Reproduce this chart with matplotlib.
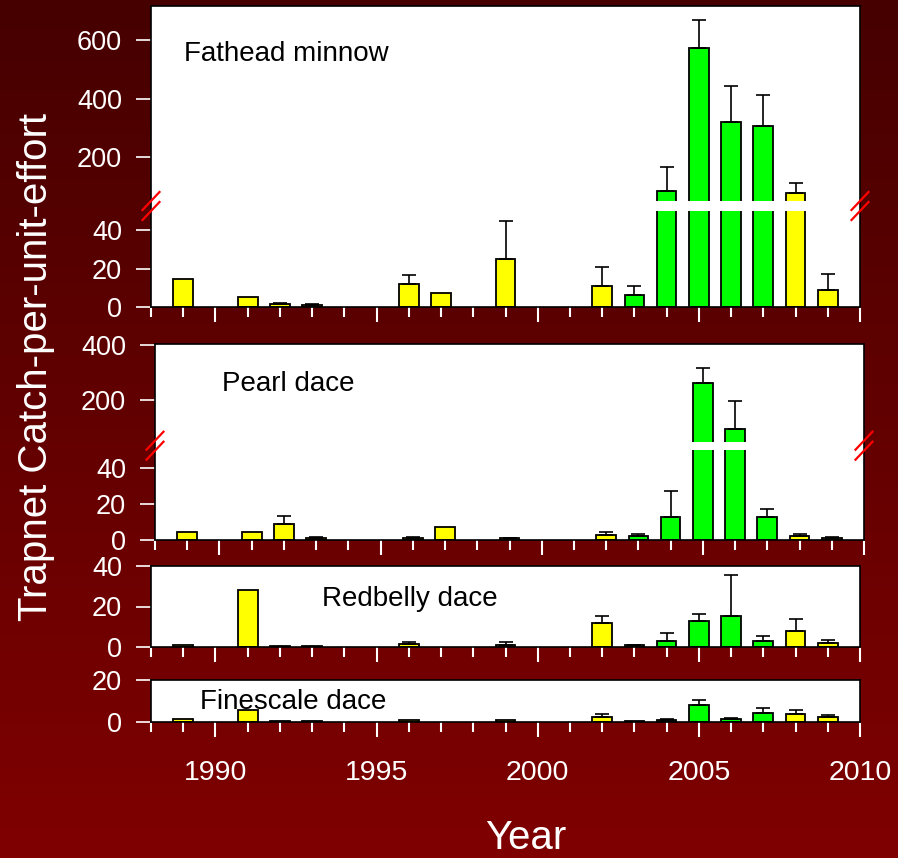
import numpy as np
import matplotlib
matplotlib.use("Agg")
import matplotlib.pyplot as plt
from matplotlib.colors import LinearSegmentedColormap
from matplotlib.patches import Rectangle
from matplotlib.lines import Line2D

plt.rcParams["font.family"] = ["Liberation Sans", "DejaVu Sans"]

# ---- data -------------------------------------------------------------
years = list(range(1989, 2010))
green_years = [2003, 2004, 2005, 2006, 2007]

fathead = [14.5, 0, 5, 1.5, 1.0, 0, 0, 12, 7.4, 0, 25, 0, 0, 11, 6, 83, 573, 322, 305, 78, 9]
fathead_se = [0, 0, 0, 0.8, 0.4, 0, 0, 4.5, 0, 0, 20, 0, 0, 10, 5, 84, 95, 120, 106, 32, 8]

pearl = [4.3, 0, 4.1, 8.5, 1.0, 0, 0, 1.0, 6.8, 0, 0.7, 0, 0, 2.5, 2.0, 12.5, 263, 94, 12.5, 2.0, 0.8]
pearl_se = [0, 0, 0, 4.8, 0.5, 0, 0, 0.5, 0, 0, 0.3, 0, 0, 1.5, 1.4, 14.5, 51, 102, 4.5, 1.3, 0.8]

redbelly = [1.1, 0, 28.3, 0.3, 0.6, 0, 0, 1.6, 0, 0, 1.0, 0, 0, 12.0, 0.8, 2.8, 12.7, 15.3, 3.0, 7.7, 1.8]
redbelly_se = [0, 0, 0, 0, 0, 0, 0, 0.7, 0, 0, 1.3, 0, 0, 3.3, 0.3, 4.0, 3.6, 20.3, 2.3, 6.3, 1.7]

finescale = [1.4, 0, 5.8, 0.2, 0.2, 0, 0, 0.9, 0, 0, 0.6, 0, 0, 2.1, 0.2, 0.6, 7.9, 1.4, 4.3, 3.6, 2.4]
finescale_se = [0, 0, 0, 0, 0, 0, 0, 0, 0, 0, 0, 0, 0, 1.5, 0, 0.8, 2.3, 0.5, 2.5, 1.9, 0.9]

species = ["Fathead minnow", "Pearl dace", "Redbelly dace", "Finescale dace"]
major_years = [1990, 1995, 2000, 2005, 2010]

# ---- layout (pixels) --------------------------------------------------
W, H = 898, 858
fig = plt.figure(figsize=(W / 100, H / 100), dpi=100)

# background gradient
bg = fig.add_axes([0, 0, 1, 1], zorder=-10)
grad = np.linspace(0, 1, 256).reshape(-1, 1)
cmap = LinearSegmentedColormap.from_list("bg", ["#460000", "#800000"])
bg.imshow(grad, aspect="auto", cmap=cmap, extent=[0, 1, 0, 1], origin="upper")
bg.axis("off")


def px_axes(left, top, right, bottom):
    return fig.add_axes([left / W, 1 - bottom / H, (right - left) / W, (bottom - top) / H])


def broken_scale(b, k1, gap, k2):
    def fwd(v):
        v = np.asarray(v, dtype=float)
        return np.where(v <= b, v * k1, b * k1 + gap + (v - b) * k2)

    def inv(u):
        u = np.asarray(u, dtype=float)
        lo = b * k1
        return np.where(u <= lo, u / k1,
                        np.where(u < lo + gap, b, b + (u - lo - gap) / k2))
    return fwd, inv


panels = [
    dict(name=species[0], vals=fathead, errs=fathead_se, rect=(151, 6, 860, 307),
         brk=(50, 1.92, 10, 0.2925), ylim=717, yticks=[0, 20, 40, 200, 400, 600],
         title_xy=(184, 61)),
    dict(name=species[1], vals=pearl, errs=pearl_se, rect=(155, 344, 864, 539.7),
         brk=(50, 1.80, 8, 0.277), ylim=402, yticks=[0, 20, 40, 200, 400],
         title_xy=(222, 391)),
    dict(name=species[2], vals=redbelly, errs=redbelly_se, rect=(151, 566, 860, 647),
         brk=None, ylim=40, yticks=[0, 20, 40], title_xy=(322, 606.5)),
    dict(name=species[3], vals=finescale, errs=finescale_se, rect=(151, 680, 860, 721.7),
         brk=None, ylim=20, yticks=[0, 20], title_xy=(200, 709)),
]

bar_w = 0.61
for i, p in enumerate(panels):
    left, top, right, bottom = p["rect"]
    ax = px_axes(left, top, right, bottom)
    ax.set_facecolor("white")

    if p["brk"] is not None:
        fwd, inv = broken_scale(*p["brk"])
        ax.set_yscale("function", functions=(fwd, inv))

    xs = [y for y, v in zip(years, p["vals"]) if v > 0]
    hs = [v for v in p["vals"] if v > 0]
    cols = ["#00FF00" if y in green_years else "#FFFF00" for y in xs]
    ax.bar(xs, hs, width=bar_w, color=cols, edgecolor="black", linewidth=1.3, zorder=1)

    ex = [y for y, v, e in zip(years, p["vals"], p["errs"]) if e > 0]
    ey = [v for v, e in zip(p["vals"], p["errs"]) if e > 0]
    ee = [e for e in p["errs"] if e > 0]
    ax.errorbar(ex, ey, yerr=[np.zeros(len(ee)), ee], fmt="none", ecolor="black",
                elinewidth=1.2, capsize=5, capthick=1.2, zorder=2)

    ax.set_xlim(1988, 2010)
    ax.set_ylim(0, p["ylim"])
    ax.set_yticks(p["yticks"])
    ax.set_yticklabels([str(t) for t in p["yticks"]])
    ax.yaxis.set_minor_locator(matplotlib.ticker.NullLocator())
    ax.set_xticks(major_years)
    ax.set_xticklabels([str(y) for y in major_years])
    ax.set_xticks(list(range(1988, 2011)), minor=True)

    for s in ax.spines.values():
        s.set_color("black")
        s.set_linewidth(1.2)
        s.set_zorder(5)

    ax.tick_params(axis="y", which="major", direction="out", length=10.8, width=1.2,
                   color="white", labelcolor="white", labelsize=19.5, pad=10)
    ax.tick_params(axis="x", which="major", direction="out", length=10.8, width=1.5,
                   color="white", labelcolor="white", labelsize=20.5, pad=17)
    ax.tick_params(axis="x", which="minor", direction="out", length=7.2, width=1.5,
                   color="white")
    if i < 3:
        ax.tick_params(axis="x", which="both", labelbottom=False)

    if p["brk"] is not None:
        b, k1, gap, k2 = p["brk"]
        hpx = bottom - top
        y0 = b * k1 / hpx
        y1 = (b * k1 + gap) / hpx
        ax.add_patch(Rectangle((0, y0), 1, y1 - y0, transform=ax.transAxes,
                               facecolor="white", edgecolor="none", zorder=3))
        yc = bottom - (b * k1 + gap / 2)
        for xs_px in (left, right):
            for dy in (-5, 5):
                fig.add_artist(Line2D(
                    [(xs_px - 8.5) / W, (xs_px + 8.5) / W],
                    [1 - (yc + dy + 9) / H, 1 - (yc + dy - 9) / H],
                    transform=fig.transFigure, color="#FF0000", linewidth=1.6,
                    zorder=10))

    tx, ty = p["title_xy"]
    fig.text(tx / W, 1 - ty / H, p["name"], fontsize=20, color="black",
             ha="left", va="baseline", zorder=10)

fig.text(36 / W, 1 - 367 / H, "Trapnet Catch-per-unit-effort", rotation=90,
         fontsize=29, color="white", ha="center", va="center")
fig.text(526 / W, 1 - 838 / H, "Year", fontsize=29, color="white",
         ha="center", va="center")

fig.savefig("out.png", dpi=100)
